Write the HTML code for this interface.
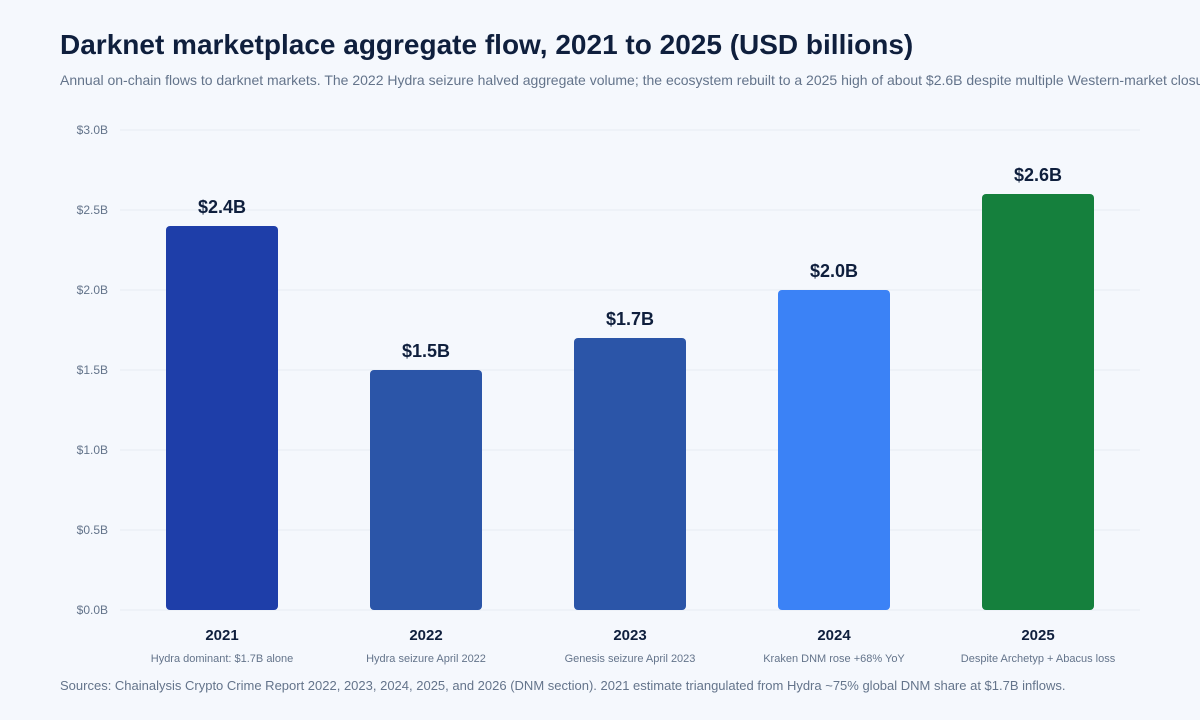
<!DOCTYPE html>
<html><head><meta charset="utf-8"><style>
html,body{margin:0;padding:0;background:#f5f8fd;width:1200px;height:720px;overflow:hidden;font-family:"Liberation Sans",Arial,sans-serif}
#title{position:absolute;left:60px;top:29px;font-size:28px;font-weight:bold;color:#0f1f3d;white-space:nowrap}
#sub{position:absolute;left:60px;top:72px;font-size:14px;color:#64748b;white-space:nowrap}
#src{position:absolute;left:60px;top:678px;font-size:13px;color:#64748b;white-space:nowrap}
svg{position:absolute;left:0;top:0}
</style></head><body>
<div id="title">Darknet marketplace aggregate flow, 2021 to 2025 (USD billions)</div>
<div id="sub">Annual on-chain flows to darknet markets. The 2022 Hydra seizure halved aggregate volume; the ecosystem rebuilt to a 2025 high of about $2.6B despite multiple Western-market closures.</div>
<svg id="chart" width="1200" height="720"></svg>
<div id="src">Sources: Chainalysis Crypto Crime Report 2022, 2023, 2024, 2025, and 2026 (DNM section). 2021 estimate triangulated from Hydra ~75% global DNM share at $1.7B inflows.</div>
<script>
const categories=["2021","2022","2023","2024","2025"];
const values=[2.4,1.5,1.7,2.0,2.6];
const valueLabels=["$2.4B","$1.5B","$1.7B","$2.0B","$2.6B"];
const notes=["Hydra dominant: $1.7B alone","Hydra seizure April 2022","Genesis seizure April 2023","Kraken DNM rose +68% YoY","Despite Archetyp + Abacus loss"];
const ticks=[0,0.5,1,1.5,2,2.5,3];
const tickLabels=["$0.0B","$0.5B","$1.0B","$1.5B","$2.0B","$2.5B","$3.0B"];
const colors=["#1e3ea9","#2b55a8","#2b55a8","#3b82f6","#15803d"];
const NS="http://www.w3.org/2000/svg";
const svg=document.getElementById('chart');
const x0=120,x1=1140,yTop=130,yBot=610,yMax=3;
const band=(x1-x0)/categories.length,bw=112;
const y=v=>yBot-(v/yMax)*(yBot-yTop);
const xc=i=>x0+band*(i+0.5);
function mk(t,a){const e=document.createElementNS(NS,t);for(const k in a)e.setAttribute(k,a[k]);svg.appendChild(e);return e;}
ticks.forEach((t,i)=>{
 const g=mk('line',{x1:x0,x2:x1,y1:y(t),y2:y(t),stroke:'#e6ebf2','stroke-width':1});
 
 
 const l=mk('text',{x:108,y:y(t)+4,'text-anchor':'end','font-size':12,fill:'#64748b'});
 l.textContent=tickLabels[i];
 
 
});
categories.forEach((c,i)=>{
 const top=y(values[i]);
 const b=mk('rect',{x:xc(i)-bw/2,y:top,width:bw,height:yBot-top,rx:4,fill:colors[i]});
 
 
 const v=mk('text',{x:xc(i),y:top-13,'text-anchor':'middle','font-size':18,'font-weight':'bold',fill:'#0f1f3d'});
 v.textContent=valueLabels[i];
 
 
 const cl=mk('text',{x:xc(i),y:640,'text-anchor':'middle','font-size':15,'font-weight':'bold',fill:'#0f1f3d'});
 cl.textContent=c;
 
 
 const n=mk('text',{x:xc(i),y:662,'text-anchor':'middle','font-size':11,fill:'#64748b'});
 n.textContent=notes[i];
 
 
});
</script>
</body></html>
